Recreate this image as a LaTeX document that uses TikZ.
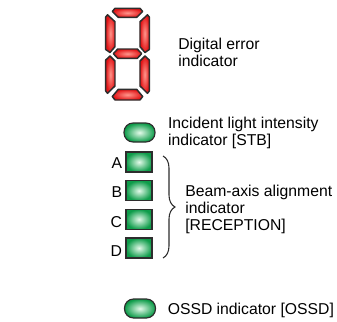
\documentclass[tikz,border=0pt]{standalone}
\usepackage{fontspec}
\setmainfont{Liberation Sans}
\usetikzlibrary{decorations.pathreplacing}

\definecolor{segred}{RGB}{226,20,22}
\definecolor{seglight}{RGB}{255,150,140}
\definecolor{ledgreen}{RGB}{14,156,74}
\definecolor{ledlight}{RGB}{228,250,234}
\definecolor{rim}{RGB}{45,45,45}

\tikzset{every picture/.style={line width=0.75pt}}
\tikzset{
  segment/.style={draw=rim, line width=1.1pt, line join=round, inner color=seglight, outer color=segred},
  oval/.style={rectangle, rounded corners=6.8pt, minimum width=23.25pt, minimum height=14.25pt, inner sep=0pt, draw=rim, line width=0.9pt, inner color=ledlight, outer color=ledgreen},
  ledbox/.style={rectangle, minimum width=19.5pt, minimum height=15pt, inner sep=0pt, draw=rim, line width=0.9pt, inner color=ledlight, outer color=ledgreen},
  lbl/.style={anchor=base west, inner sep=0pt, align=left, font=\fontsize{11.8}{12.75}\selectfont},
  letter/.style={anchor=base east, inner sep=0pt, font=\fontsize{11.8}{12.75}\selectfont}
}

\begin{document}
\begin{tikzpicture}[x=0.75pt,y=0.75pt,yscale=-1,xscale=1]
\useasboundingbox (0,0) rectangle (337,322);

%Seven segment [top]
\draw [segment] (115,8.3) -- (140,8.3) -- (142.7,11.5) -- (136.7,17.3) -- (118.3,17.3) -- (112.3,11.5) -- cycle ;
%Seven segment [upper left]
\draw [segment] (105.7,17) -- (107.5,14.8) -- (115,21.7) -- (115,46.7) -- (110,52.5) -- (105.7,49.5) -- cycle ;
%Seven segment [upper right]
\draw [segment] (149.3,17) -- (147.5,14.8) -- (140,21.7) -- (140,46.7) -- (145,52.5) -- (149.3,49.5) -- cycle ;
%Seven segment [middle]
\draw [segment] (113.3,53.7) -- (117.7,49) -- (137.3,49) -- (141.7,53.7) -- (137.3,58.3) -- (117.7,58.3) -- cycle ;
%Seven segment [lower left]
\draw [segment] (105.7,60) -- (110,56) -- (115,61) -- (115,86) -- (107.5,93.3) -- (105.7,91) -- cycle ;
%Seven segment [lower right]
\draw [segment] (149.3,60) -- (145,56) -- (140,61) -- (140,86) -- (147.5,93.3) -- (149.3,91) -- cycle ;
%Seven segment [bottom]
\draw [segment] (118.3,89.3) -- (136.7,89.3) -- (142.7,96.5) -- (140,100) -- (115,100) -- (112.3,96.5) -- cycle ;

%Indicators
\node [oval] (stb) at (139.5,132.5) {};
\node [ledbox] (ledA) at (139,162) {};
\node [ledbox] (ledB) at (139,190.7) {};
\node [ledbox] (ledC) at (139,219.3) {};
\node [ledbox] (ledD) at (139,248) {};
\node [oval] (ossd) at (140,308.5) {};

%Brace
\draw [color=rim, line width=0.8pt, decorate, decoration={brace, amplitude=9pt}] (163,156) -- (163,258) ;

% Text Node
\node [lbl] (errtxt) at (177.8,66) {Digital error\\indicator};
% Text Node
\node [lbl] (stbtxt) at (167.6,145.3) {Incident light intensity\\indicator [STB]};
% Text Node
\node [lbl] (rcptxt) at (184.8,230.6) {Beam-axis alignment\\indicator\\{}[RECEPTION]};
% Text Node
\node [lbl] (ossdtxt) at (167.3,314.8) {OSSD indicator [OSSD]};
% Text Node
\node [letter] (lblA) at (122.5,168.5) {A};
\node [letter] (lblB) at (122.5,197.5) {B};
\node [letter] (lblC) at (122.5,227) {C};
\node [letter] (lblD) at (122.5,256.5) {D};

\end{tikzpicture}
\end{document}
